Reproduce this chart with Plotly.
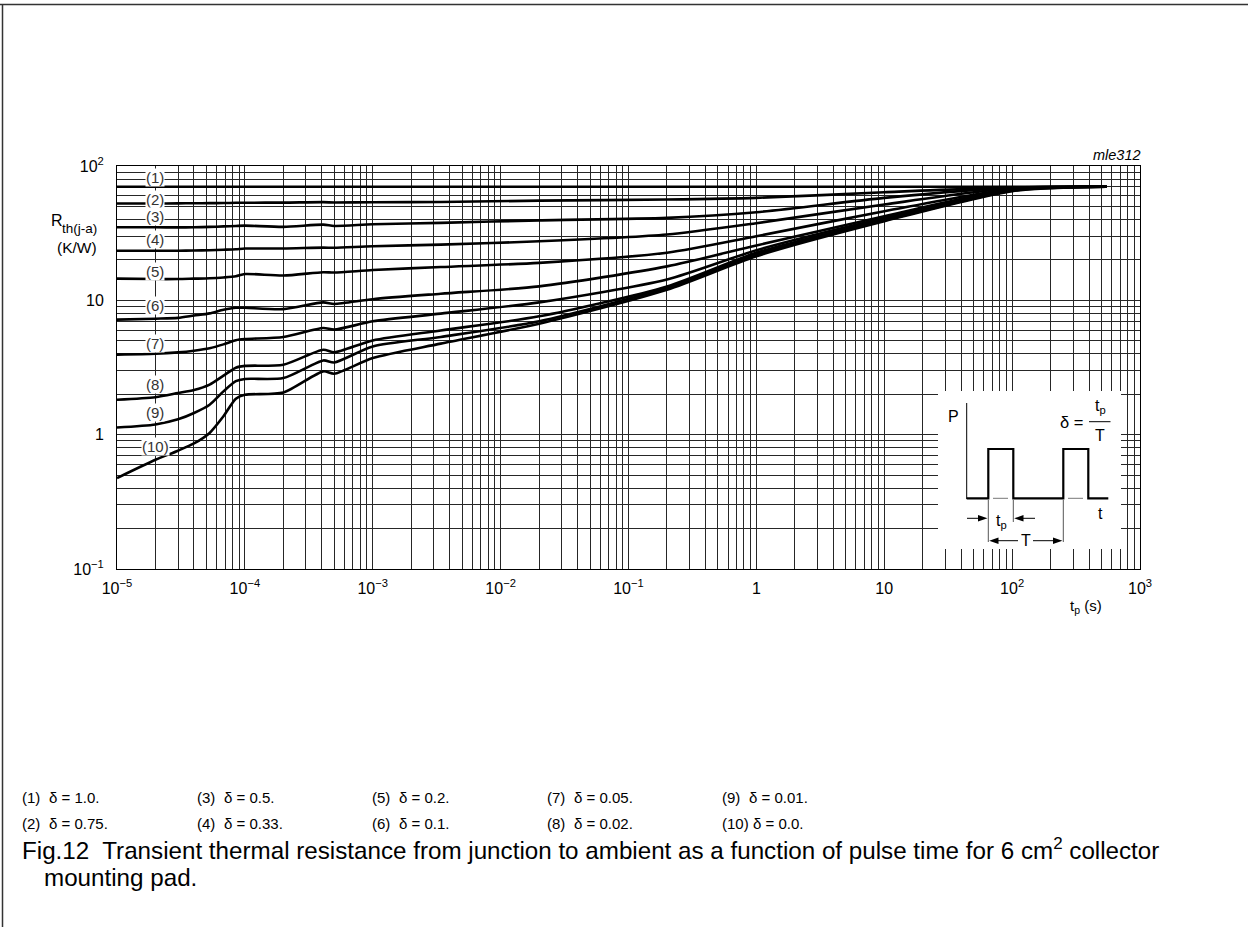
import plotly.graph_objects as go
import math

# ---------------- data ----------------
t_p = [1e-5, 2e-5, 3e-5, 4e-5, 5.3e-5, 6.8e-5, 8.5e-5, 1e-4, 2e-4, 4.1e-4, 5e-4,
       1e-3, 3.4e-3, 2e-2, 0.2, 1, 10, 100, 550]

r1 = [70, 70, 70, 70, 70, 70, 70, 70, 70, 70, 70, 70, 70, 70, 70, 70, 70, 70, 70]
r2 = [52.6, 52.6, 52.7, 52.8, 52.9, 53.0, 53.2, 53.3, 53.4, 53.8, 53.5, 53.7, 54.0, 55.2, 56.3, 57.9, 63.8, 69.3, 70]
r3 = [35.0, 35.0, 34.9, 35.0, 35.2, 35.5, 35.8, 36.0, 35.2, 36.6, 35.8, 36.8, 37.7, 39.4, 41.1, 45.3, 57.9, 69.0, 70]
r4 = [23.4, 23.4, 23.4, 23.5, 23.6, 23.8, 24.0, 24.3, 24.3, 24.7, 24.6, 25.3, 26.0, 27.5, 30.9, 37.5, 51.7, 68.5, 70]
r5 = [14.5, 14.4, 14.4, 14.5, 14.6, 14.8, 15.1, 15.7, 15.3, 16.2, 16.1, 16.8, 17.7, 19.0, 22.6, 30.0, 46.1, 67.5, 70]
r6 = [7.18, 7.3, 7.4, 7.7, 8.0, 8.5, 8.8, 8.8, 8.6, 9.66, 9.4, 10.2, 11.2, 12.7, 17.9, 25.6, 42.3, 67.0, 70]
r7 = [3.94, 4.0, 4.1, 4.22, 4.4, 4.7, 5.05, 5.15, 5.34, 6.23, 6.05, 6.98, 7.96, 9.66, 14.3, 23.6, 41.0, 66.5, 70]
r8 = [1.82, 1.9, 2.04, 2.15, 2.36, 2.75, 3.15, 3.25, 3.32, 4.29, 4.10, 5.03, 5.97, 7.6, 12.7, 22.6, 40.0, 66.0, 70]
r9 = [1.13, 1.19, 1.3, 1.45, 1.67, 2.1, 2.5, 2.6, 2.64, 3.57, 3.45, 4.54, 5.34, 6.98, 12.4, 21.9, 39.3, 65.5, 70]
r10 = [0.475, 0.65, 0.76, 0.86, 1.03, 1.37, 1.85, 1.98, 2.06, 2.96, 2.84, 3.72, 4.76, 6.70, 12.0, 21.3, 38.8, 65.0, 70]

series = [r1, r2, r3, r4, r5, r6, r7, r8, r9, r10]
curve_labels = ["(1)", "(2)", "(3)", "(4)", "(5)", "(6)", "(7)", "(8)", "(9)", "(10)"]
label_t = 2e-5
label_r = [81.7, 56.3, 42.3, 28.3, 16.4, 9.13, 4.81, 2.38, 1.45, 0.817]
deltas = ["1.0", "0.75", "0.5", "0.33", "0.2", "0.1", "0.05", "0.02", "0.01", "0.0"]

x_ticks_major = [1e-5, 1e-4, 1e-3, 1e-2, 1e-1, 1, 10, 100, 1000]
x_tick_text = ["10<sup>−5</sup>", "10<sup>−4</sup>", "10<sup>−3</sup>", "10<sup>−2</sup>",
               "10<sup>−1</sup>", "1", "10", "10<sup>2</sup>", "10<sup>3</sup>"]
y_ticks_major = [0.1, 1, 10, 100]
y_tick_text = ["10<sup>−1</sup>", "1", "10", "10<sup>2</sup>"]

caption_line1 = "Fig.12  Transient thermal resistance from junction to ambient as a function of pulse time for 6 cm<sup>2</sup> collector"
caption_line2 = "mounting pad."

# ---------------- layout geometry ----------------
FW, FH = 1248, 927
L, T, W, H = 117, 166, 1023, 403
FONT = "Liberation Sans, Arial, Helvetica, sans-serif"
GRID = "#262626"

# Arial / Liberation Sans advance widths (1/1000 em), used to size the caption line
AW = {' ': 278, 'F': 611, 'i': 222, 'g': 556, '.': 278, '1': 556, '2': 556, 'T': 611, 'r': 333,
      'a': 556, 'n': 556, 's': 500, 'e': 556, 't': 278, 'h': 556, 'm': 833, 'l': 222, 'o': 556,
      'f': 278, 'j': 222, 'u': 556, 'c': 500, 'b': 556, 'p': 556, '6': 556, 'd': 556}


def em_width(s):
    sup = 0.0
    if "<sup>" in s:
        head, rest = s.split("<sup>", 1)
        supt, tail = rest.split("</sup>", 1)
        sup = sum(AW.get(ch, 556) for ch in supt) * 0.7
        s = head + tail
    return (sum(AW.get(ch, 556) for ch in s) + sup) / 1000.0


def px(x):
    return (x - L) / W


def py(y):
    return (T + H - y) / H


def log_minor(lo, hi):
    vals = []
    for e in range(lo, hi):
        for m in range(2, 10):
            vals.append(m * 10.0 ** e)
    return vals


fig = go.Figure()
for s in series:
    fig.add_trace(go.Scatter(x=t_p, y=s, mode="lines",
                             line=dict(color="black", width=2.6, shape="spline", smoothing=0.7),
                             showlegend=False, hoverinfo="skip"))

shapes = []
annotations = []


def line(x0, y0, x1, y1, w=1.0, color="black"):
    shapes.append(dict(type="line", xref="paper", yref="paper",
                       x0=px(x0), y0=py(y0), x1=px(x1), y1=py(y1),
                       line=dict(color=color, width=w), layer="above"))


def poly(points, fill="black", w=0, closed=True, color="black"):
    d = "M " + " L ".join(f"{px(a):.5f},{py(b):.5f}" for a, b in points)
    if closed:
        d += " Z"
    shapes.append(dict(type="path", xref="paper", yref="paper", path=d,
                       fillcolor=fill if closed else "rgba(0,0,0,0)",
                       line=dict(color=color, width=w), layer="above"))


def text(x, y, s, size=14, xanchor="center", yanchor="middle", italic=False, color="black"):
    annotations.append(dict(xref="paper", yref="paper", x=px(x), y=py(y), text=s,
                            showarrow=False, xanchor=xanchor, yanchor=yanchor,
                            font=dict(family=FONT, size=size, color=color,
                                      style="italic" if italic else "normal")))


# page frame (top and left)
line(0, 4.5, FW, 4.5, w=1.5, color="#333")
line(2.5, 4.5, 2.5, FH, w=1.5, color="#333")

# inset box
shapes.append(dict(type="rect", xref="paper", yref="paper",
                   x0=px(938), y0=py(549), x1=px(1121), y1=py(391),
                   fillcolor="white", line=dict(width=0), layer="above"))
line(966.7, 403, 966.7, 499, w=1)
poly([(966.7, 498.3), (988.3, 498.3), (988.3, 449), (1013.3, 449), (1013.3, 498.3),
      (1063.3, 498.3), (1063.3, 449), (1088.3, 449), (1088.3, 498.3), (1108.3, 498.3)],
     closed=False, w=2.2)
line(993, 498.3, 1008, 498.3, w=1, color="#777")
line(1068, 498.3, 1083, 498.3, w=1, color="#777")
line(988.3, 500, 988.3, 542, w=1, color="#555")
line(1013.3, 500, 1013.3, 522, w=1, color="#555")
line(1063.3, 500, 1063.3, 542, w=1, color="#555")
line(967, 518.3, 980, 518.3, w=1)
poly([(987.5, 518.3), (978, 515), (978, 521.6)])
line(1021, 518.3, 1035, 518.3, w=1)
poly([(1014.2, 518.3), (1023.5, 515), (1023.5, 521.6)])
line(996, 540.7, 1018, 540.7, w=1)
poly([(989.2, 540.7), (998.5, 537.4), (998.5, 544)])
line(1033, 540.7, 1055, 540.7, w=1)
poly([(1062.4, 540.7), (1053, 537.4), (1053, 544)])
line(1089, 421.7, 1110.5, 421.7, w=1)

text(953.5, 416.5, "P", size=16)
text(1100, 513, "t", size=16)
text(1071, 421.7, "δ =", size=16.5)
text(1100, 406, "t<sub>p</sub>", size=16)
text(1100, 435.5, "T", size=16)
text(1001, 521, "t<sub>p</sub>", size=16)
text(1025.5, 540.5, "T", size=16)

# axis titles / code
text(49, 221, "R", size=16, xanchor="left")
text(59.5, 228, "th(j-a)", size=13.5, xanchor="left")
text(77, 247, "(K/W)", size=15.5)
text(1143, 155, "mle312", size=14.5, xanchor="right", italic=True)
text(1086, 606, "t<sub>p</sub> (s)", size=15)

# legend rows
col_x = [20, 195, 370, 545, 720]
row_y = [797, 823]
for i, d in enumerate(deltas):
    c, r = i // 2, i % 2
    text(col_x[c], row_y[r], curve_labels[i], size=15, xanchor="left")
    text(col_x[c] + (27 if i < 9 else 31), row_y[r], f"δ = {d}.", size=15, xanchor="left")

# caption: size chosen so that line 1 spans 20..1160 px like the reference
CAP_SIZE = round(1140.0 / em_width(caption_line1.replace("  ", " ") + " "), 1)
annotations.append(dict(xref="paper", yref="paper", x=px(20), y=py(849),
                        text=caption_line1.replace("  ", "\u00a0 "), showarrow=False,
                        xanchor="left", yanchor="middle",
                        font=dict(family=FONT, size=CAP_SIZE, color="black")))
text(42, 877, caption_line2, size=CAP_SIZE, xanchor="left")

# curve labels with white background (data coordinates)
for lab, rv in zip(curve_labels, label_r):
    annotations.append(dict(xref="x", yref="y", x=math.log10(label_t), y=math.log10(rv),
                            text=lab, showarrow=False, xanchor="center", yanchor="middle",
                            bgcolor="white", borderpad=0,
                            font=dict(family=FONT, size=15, color="#333")))

axis_common = dict(type="log", showgrid=True, gridcolor=GRID, gridwidth=1,
                   showline=True, mirror=True, linecolor="black", linewidth=1,
                   ticks="", zeroline=False,
                   tickfont=dict(family=FONT, size=16, color="black"))

fig.update_layout(
    width=FW, height=FH,
    margin=dict(l=L, r=FW - L - W, t=T, b=FH - T - H, pad=0),
    paper_bgcolor="white", plot_bgcolor="white",
    xaxis=dict(range=[-5, 3], tickmode="array", tickvals=x_ticks_major, ticktext=x_tick_text,
               ticklabelstandoff=5,
               minor=dict(tickmode="array", tickvals=log_minor(-5, 3), showgrid=True,
                          gridcolor=GRID, gridwidth=1, ticks=""),
               **axis_common),
    yaxis=dict(range=[-1, 2], tickmode="array", tickvals=y_ticks_major, ticktext=y_tick_text,
               ticklabelstandoff=9,
               minor=dict(tickmode="array", tickvals=log_minor(-1, 2), showgrid=True,
                          gridcolor=GRID, gridwidth=1, ticks=""),
               **axis_common),
    shapes=shapes,
    annotations=annotations,
    font=dict(family=FONT),
)

fig.write_html("out.html", config={"displayModeBar": False},
               post_script="document.documentElement.style.margin='0';document.body.style.margin='0';document.body.style.padding='0';")
